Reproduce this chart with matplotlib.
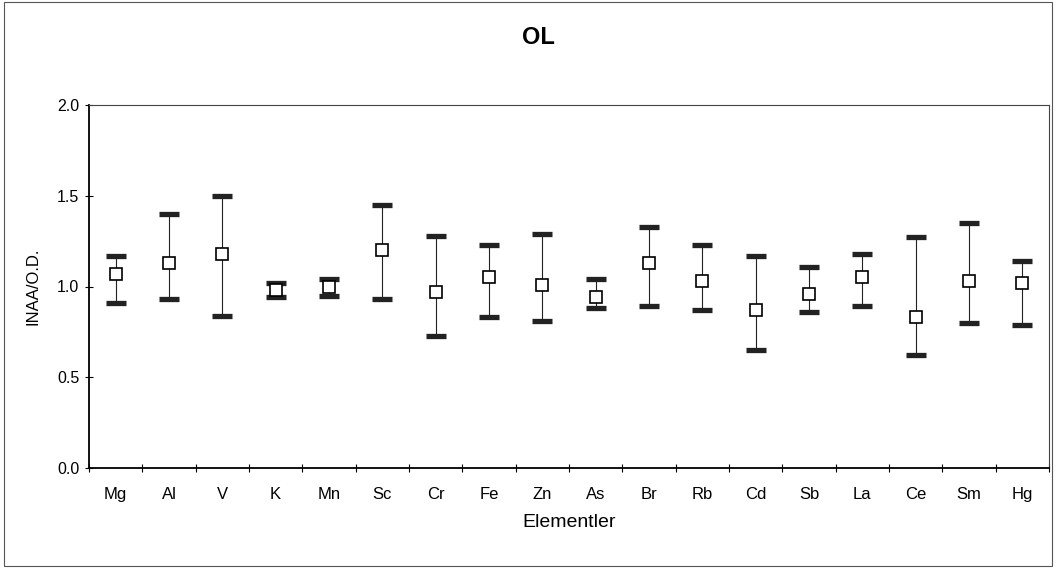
import matplotlib
matplotlib.use("Agg")
import matplotlib.pyplot as plt
from matplotlib.patches import Rectangle
import numpy as np

plt.rcParams['font.family'] = ['Liberation Sans', 'DejaVu Sans']

# INAA / O.D. oranları: ortalama ve alt-üst sınırlar
elements = ['Mg', 'Al', 'V', 'K', 'Mn', 'Sc', 'Cr', 'Fe', 'Zn',
            'As', 'Br', 'Rb', 'Cd', 'Sb', 'La', 'Ce', 'Sm', 'Hg']
mean = [1.07, 1.13, 1.18, 0.98, 1.00, 1.20, 0.97, 1.05, 1.01,
        0.94, 1.13, 1.03, 0.87, 0.96, 1.05, 0.83, 1.03, 1.02]
upper = [1.17, 1.40, 1.50, 1.02, 1.04, 1.45, 1.28, 1.23, 1.29,
         1.04, 1.33, 1.23, 1.17, 1.11, 1.18, 1.27, 1.35, 1.14]
lower = [0.91, 0.93, 0.84, 0.94, 0.95, 0.93, 0.73, 0.83, 0.81,
         0.88, 0.89, 0.87, 0.65, 0.86, 0.89, 0.62, 0.80, 0.79]

x = np.arange(len(elements))
mean = np.array(mean)
yerr = [mean - np.array(lower), np.array(upper) - mean]

fig = plt.figure(figsize=(10.57, 5.68), dpi=100)
ax = fig.add_axes([89 / 1057, 100 / 568, 960 / 1057, 363 / 568])

# hata çubukları (kalın uçlu)
ax.errorbar(x, mean, yerr=yerr, fmt='none', ecolor='#222222',
            elinewidth=0.8, capsize=7.5, capthick=3.8, zorder=2)
# ortalama değerler: içi boş kare
ax.plot(x, mean, 's', markersize=8.5, markerfacecolor='white',
        markeredgecolor='black', markeredgewidth=1.2, linestyle='none',
        zorder=3)

ax.set_xlim(-0.5, len(elements) - 0.5)
ax.set_ylim(0, 2.0)
ax.set_yticks([0, 0.5, 1.0, 1.5, 2.0])
ax.set_yticklabels(['0.0', '0.5', '1.0', '1.5', '2.0'], fontsize=11.5)
ax.set_xticks(x)
ax.set_xticklabels(elements, fontsize=12)
ax.set_xticks(np.arange(-0.5, len(elements)), minor=True)
ax.tick_params(axis='x', which='major', length=0, pad=14)
ax.tick_params(axis='x', which='minor', direction='inout', length=6, width=0.8)
ax.tick_params(axis='y', direction='inout', length=6, width=0.8, pad=4)

for side in ['left', 'bottom']:
    ax.spines[side].set_linewidth(1.3)
    ax.spines[side].set_color('black')
for side in ['top', 'right']:
    ax.spines[side].set_linewidth(0.8)
    ax.spines[side].set_color('#444444')

ax.set_xlabel('Elementler', fontsize=14, labelpad=8)
ax.set_ylabel('INAA/O.D.', fontsize=12, labelpad=12)

fig.text(538 / 1057, 1 - 38 / 568, 'OL', fontsize=17, fontweight='bold',
         ha='center', va='center')

# dış çerçeve
fig.patches.append(Rectangle((4 / 1057, 2 / 568), 1048 / 1057, 564 / 568,
                             transform=fig.transFigure, fill=False,
                             edgecolor='#555555', linewidth=0.8))

fig.savefig('out.png', dpi=100)
